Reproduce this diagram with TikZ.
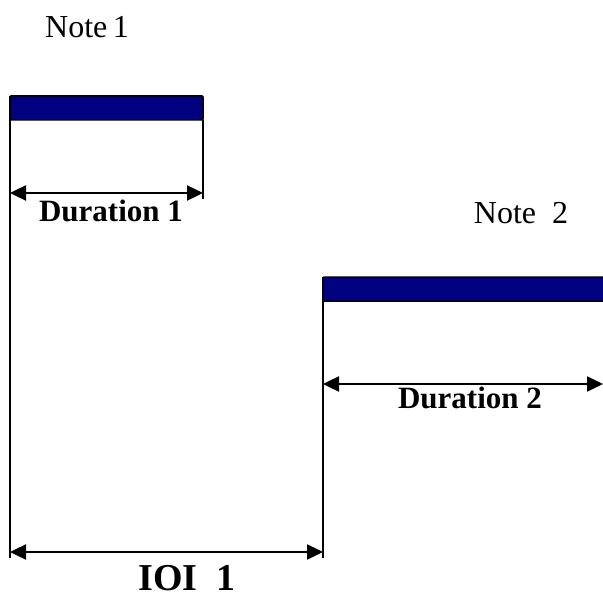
\documentclass[tikz,border=0pt]{standalone}
\usepackage{fontspec}
\setmainfont{Liberation Serif}
\usetikzlibrary{arrows.meta}
\definecolor{barblue}{RGB}{0,0,128}
\begin{document}
\begin{tikzpicture}[x=1pt,y=-1pt,
  bar/.style={draw=black,line width=1.5pt,fill=barblue,rounded corners=1pt},
  tick/.style={line width=2pt},
  dim/.style={line width=2.4pt,{Triangle[length=16pt,width=15pt]}-{Triangle[length=16pt,width=15pt]}},
  notelbl/.style={font=\fontsize{32}{34}\selectfont,inner sep=0pt,anchor=base},
  durlbl/.style={font=\fontsize{31}{34}\selectfont\bfseries,inner sep=0pt,anchor=base},
  ioilbl/.style={font=\fontsize{38}{40}\selectfont\bfseries,inner sep=0pt,anchor=base}]
\useasboundingbox (0,0) rectangle (603,599);
% bars
\draw[bar] (10,96) rectangle (203,120);
\draw[bar] (323,277) rectangle (606,301);
\coordinate (b1l) at (10,96);
\coordinate (b1r) at (203,120);
\coordinate (b2l) at (323,277);
% vertical extension lines
\coordinate (v1bot) at (10,558);
\coordinate (v2bot) at (203,199);
\coordinate (v3bot) at (323,558);
\draw[tick] (b1l) -- (v1bot);
\draw[tick] (b1r) -- (v2bot);
\draw[tick] (b2l) -- (v3bot);
% dimension arrows
\coordinate (d1a) at (10,193);
\coordinate (d1b) at (203,193);
\coordinate (d2a) at (323,384);
\coordinate (d2b) at (603,384);
\coordinate (d3a) at (10,552);
\coordinate (d3b) at (323,552);
\draw[dim] (d1a) -- (d1b);
\draw[dim] (d2a) -- (d2b);
\draw[dim] (d3a) -- (d3b);
% labels
\node[notelbl] (n1) at (87,38) {Note\,1};
\node[notelbl] (n2) at (521,223) {Note\ \ 2};
\node[durlbl] (dl1) at (111,222) {Duration 1};
\node[durlbl] (dl2) at (470,408) {Duration 2};
\node[ioilbl] (ioi) at (187,590) {IOI\ \ 1};
\end{tikzpicture}
\end{document}
